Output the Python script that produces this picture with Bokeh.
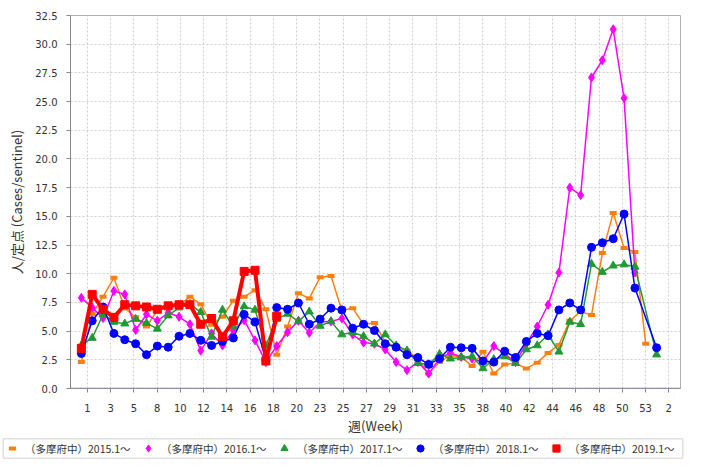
from bokeh.plotting import figure
from bokeh.layouts import column
from bokeh.models import (Range1d, FixedTicker, PrintfTickFormatter, Legend, LegendItem, Span,
                          BoxAnnotation)
from bokeh.embed import file_html
from bokeh.resources import INLINE

# ---- data ----
week_labels = ["1", "3", "5", "8", "10", "12", "14", "16", "18", "20", "23", "25", "27",
               "29", "31", "33", "35", "38", "40", "42", "44", "46", "48", "50", "53", "2"]

names = ["（多摩府中）2015.1～", "（多摩府中）2016.1～", "（多摩府中）2017.1～",
         "（多摩府中）2018.1～", "（多摩府中）2019.1～"]

y2015 = [2.3, 6.5, 8.0, 9.65, 7.0, 6.2, 5.4, 6.8, 7.35, 7.2, 8.0, 7.35, 5.55, 6.25, 7.65,
         8.0, 8.55, 6.9, 2.95, 5.4, 8.3, 7.85, 9.7, 9.8, 6.8, 7.0, 5.6, 5.7, 4.05, 3.6,
         3.3, 2.6, 1.3, 2.3, 2.9, 2.75, 1.95, 3.2, 1.3, 2.1, 2.2, 1.75, 2.25, 3.1, 3.8,
         5.9, 6.7, 6.4, 11.8, 15.3, 12.25, 11.9, 3.9]
x2015 = list(range(1, 54))

y2016 = [7.9, 7.05, 6.15, 8.5, 8.2, 5.1, 6.45, 5.9, 6.6, 6.25, 5.6, 3.3, 4.8, 3.75, 5.05,
         5.95, 4.2, 2.3, 3.7, 4.9, 5.9, 4.85, 5.8, 5.85, 6.1, 4.7, 4.0, 3.9, 3.4, 2.3,
         1.6, 2.3, 1.3, 2.6, 3.1, 2.75, 2.6, 2.3, 3.7, 3.0, 2.3, 3.9, 5.4, 7.3, 10.1,
         17.5, 16.85, 27.1, 28.6, 31.3, 25.3, 10.1]
x2016 = list(range(1, 53))

y2017 = [3.75, 4.4, 6.45, 5.8, 5.65, 6.05, 5.7, 5.2, 6.35, 7.05, 7.35, 6.65, 4.5, 6.85, 5.4,
         7.15, 6.85, 3.75, 6.05, 6.5, 5.85, 6.7, 5.45, 5.85, 4.7, 4.9, 4.55, 3.9, 4.7, 3.75,
         3.3, 2.2, 2.1, 3.0, 2.6, 2.7, 2.8, 1.75, 2.55, 2.8, 2.2, 3.4, 3.75, 4.7, 3.2,
         5.8, 5.6, 10.85, 10.15, 10.7, 10.8, 10.6, 2.95]
x2017 = list(range(1, 53)) + [54]

y2018 = [3.05, 5.9, 7.1, 4.8, 4.25, 3.9, 2.95, 3.7, 3.6, 4.55, 4.8, 4.2, 3.75, 4.1, 4.4,
         6.45, 5.8, 2.5, 7.05, 6.9, 7.45, 5.6, 6.05, 7.0, 6.85, 5.25, 5.6, 5.05, 3.9, 3.6,
         2.95, 2.7, 2.1, 2.6, 3.6, 3.55, 3.5, 2.4, 2.3, 3.25, 2.7, 4.1, 4.8, 4.6, 6.85,
         7.45, 6.85, 12.3, 12.7, 13.05, 15.2, 8.75, 3.55]
x2018 = list(range(1, 53)) + [54]

y2019 = [3.5, 8.2, 6.9, 6.2, 7.3, 7.2, 7.1, 6.9, 7.2, 7.3, 7.3, 5.6, 6.1, 4.5, 5.9,
         10.2, 10.3, 2.4, 6.3]
x2019 = list(range(1, 20))

colors = ["#ff7f0e", "#ff00ff", "#229933", "#0000ff", "#ff0000"]
markers = ["dash", "diamond", "triangle", "circle", "square"]

# ---- main figure ----
p = figure(width=685, height=437, output_backend="svg", toolbar_location=None,
           x_range=Range1d(0, 56.2), y_range=Range1d(0, 32.5),
           min_border_left=70, min_border_right=5, min_border_top=15, min_border_bottom=45)
p.frame_align = False
p.background_fill_color = "white"
p.border_fill_color = "white"
p.outline_line_color = "#b0b0b0"

ticks = [round(1.55 + k * 15.0 / 7.0, 3) for k in range(len(week_labels))]
p.xaxis.ticker = FixedTicker(ticks=ticks)
p.xaxis.major_label_overrides = {t: lab for t, lab in zip(ticks, week_labels)}
p.yaxis.ticker = FixedTicker(ticks=[i * 2.5 for i in range(14)])
p.yaxis.formatter = PrintfTickFormatter(format="%.1f")

for ax in (p.xaxis[0], p.yaxis[0]):
    ax.axis_line_color = "#888888"
    ax.major_tick_line_color = "#888888"
    ax.minor_tick_line_color = None
    ax.major_tick_in = 0
    ax.major_tick_out = 4
    ax.major_label_text_font = "DejaVu Sans"
    ax.major_label_text_font_size = "10px"
    ax.major_label_text_color = "#333333"
    ax.axis_label_text_font = "Noto Sans CJK JP"
    ax.axis_label_text_font_size = "13px"
    ax.axis_label_text_font_style = "normal"
    ax.axis_label_text_color = "#333333"

p.xaxis.axis_label = "週(Week)"
p.yaxis.axis_label = "人/定点 (Cases/sentinel)"
p.xaxis.major_label_standoff = 11
p.xaxis.axis_label_standoff = 1
p.yaxis.major_label_standoff = 9
p.yaxis.axis_label_standoff = 6

for g in (p.xgrid[0], p.ygrid[0]):
    g.grid_line_color = "#cfcfcf"
    g.grid_line_dash = "2 2"
    g.grid_line_width = 1
p.xgrid.ticker = FixedTicker(ticks=ticks)

p.add_layout(Span(location=0, dimension="width", line_color="#9a9ae0",
                  line_dash="2 1", line_width=2))

series = [(x2015, y2015), (x2016, y2016), (x2017, y2017), (x2018, y2018), (x2019, y2019)]
for i, ((xs, ys), c, m) in enumerate(zip(series, colors, markers)):
    p.line(xs, ys, line_color=c, line_width=4 if i == 4 else 1.5)
    if m == "dash":
        p.scatter(xs, ys, marker=m, size=7, line_color=c, line_width=4)
    else:
        p.scatter(xs, ys, marker=m, size=9 if m == "diamond" else 8, fill_color=c, line_color=c)

# ---- legend strip ----
q = figure(width=685, height=22, output_backend="svg", toolbar_location=None,
           x_range=Range1d(0, 1), y_range=Range1d(0, 1),
           x_axis_location=None, y_axis_location=None,
           min_border=0, min_border_left=0, min_border_right=0,
           min_border_top=0, min_border_bottom=0)
q.frame_align = False
q.outline_line_color = None
q.grid.visible = False
q.background_fill_color = "white"
q.border_fill_color = "white"

q.add_layout(BoxAnnotation(left=0.004, right=0.996, bottom=0.06, top=0.94,
                           fill_alpha=0, line_color="#999999", line_width=1.5))

items = []
for n, c, m in zip(names, colors, markers):
    if m == "dash":
        r = q.scatter([-10], [-10], marker=m, size=7, line_color=c, line_width=4)
    else:
        r = q.scatter([-10], [-10], marker=m, size=8, fill_color=c, line_color=c)
    items.append(LegendItem(label=n, renderers=[r]))

legend = Legend(items=items, orientation="horizontal", location=(3, 2))
legend.margin = 0
legend.padding = 0
legend.spacing = 4
legend.glyph_width = 18
legend.glyph_height = 18
legend.label_standoff = 4
legend.label_width = 110
legend.label_height = 18
legend.label_text_font = "Noto Sans CJK JP"
legend.label_text_font_size = "10.5px"
legend.label_text_color = "#333333"
legend.border_line_color = None
legend.background_fill_alpha = 0
q.add_layout(legend, "center")

layout = column(p, q, spacing=0)
open("out.html", "w").write(file_html(layout, INLINE))
